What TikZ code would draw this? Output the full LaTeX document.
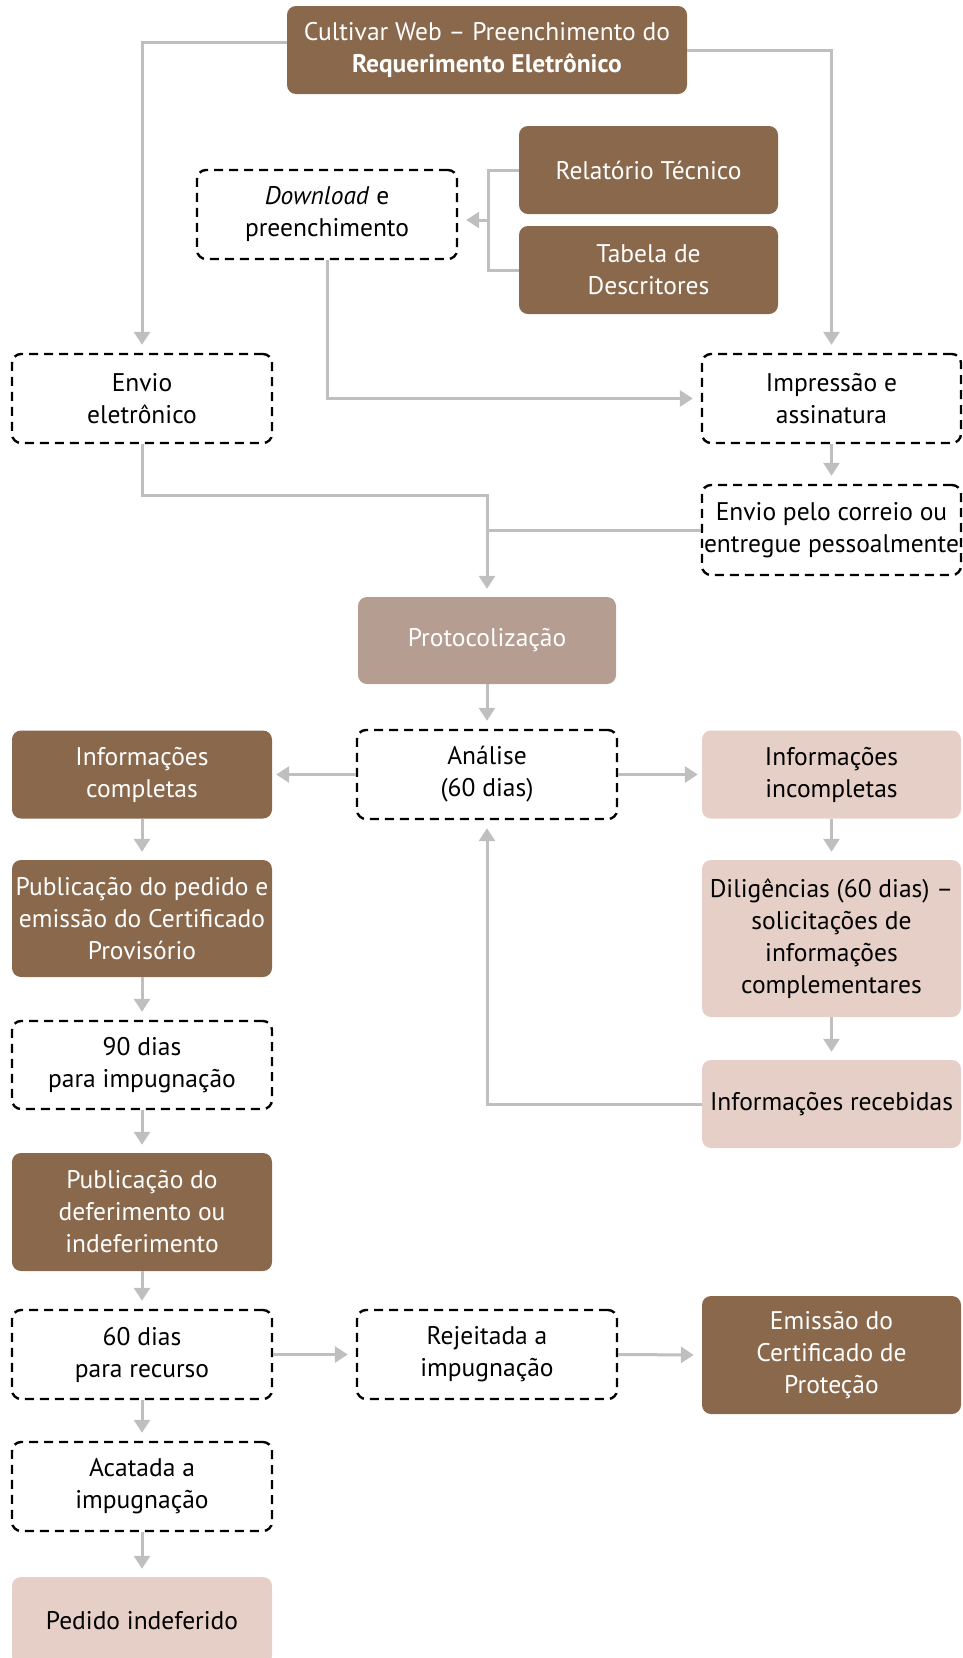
\documentclass[tikz,border=0pt]{standalone}
\usepackage{fontspec}
\setmainfont{PT Sans}
\usetikzlibrary{arrows.meta}
\definecolor{dbrown}{HTML}{8A684C}
\definecolor{lbrown}{HTML}{B59D91}
\definecolor{pinkc}{HTML}{E6CFC6}
\definecolor{conncol}{HTML}{BFBFBF}
\tikzset{
 base/.style={rounded corners=9pt, align=center, inner sep=0pt, font=\fontsize{25.5}{32}\selectfont},
 sz/.style 2 args={minimum width=#1pt, minimum height=#2pt},
 dark/.style={base, fill=dbrown, text=white},
 light/.style={base, fill=lbrown, text=white},
 pinkbox/.style={base, fill=pinkc, text=black},
 dashbox/.style={base, draw=black, line width=2.4pt, dash pattern=on 9pt off 6pt},
 plain/.style={draw=conncol, line width=3pt},
 conn/.style={plain, -{Triangle[length=13pt,width=16pt]}, shorten >=8pt},
}
\begin{document}
\begin{tikzpicture}[x=1pt,y=-1pt]
\useasboundingbox (0,0) rectangle (963,1658);
% nodes
\node[dark, sz={400}{88}] (top) at (487,50) {Cultivar Web -- Preenchimento do\\\textbf{Requerimento Eletrônico}};
\node[dark, sz={259}{88}] (rel) at (648.5,170) {Relatório Técnico};
\node[dark, sz={259}{88}] (tab) at (648.5,270) {Tabela de\\Descritores};
\node[dashbox, sz={260}{89}] (dl) at (327,214.5) {\textit{Download} e\\preenchimento};
\node[dashbox, sz={260}{89}] (env) at (142,398.5) {Envio\\eletrônico};
\node[dashbox, sz={259}{89}] (imp) at (831.5,398.5) {Impressão e\\assinatura};
\node[dashbox, sz={259}{90}] (cor) at (831.5,530) {Envio pelo correio ou\\entregue pessoalmente};
\node[light, sz={258}{87}] (prot) at (487,640.5) {Protocolização};
\node[dashbox, sz={260}{89}] (ana) at (487,774.5) {Análise\\(60 dias)};
\node[dark, sz={260}{88}] (ic) at (142,774.5) {Informações\\completas};
\node[pinkbox, sz={259}{88}] (ii) at (831.5,774.5) {Informações\\incompletas};
\node[dark, sz={260}{117}] (pub) at (142,918.5) {Publicação do pedido e\\emissão do Certificado\\Provisório};
\node[pinkbox, sz={259}{157}] (dil) at (831.5,938.5) {Diligências (60 dias) --\\solicitações de\\informações\\complementares};
\node[dashbox, sz={260}{88}] (d90) at (142,1065) {90 dias\\para impugnação};
\node[pinkbox, sz={259}{88}] (rec) at (831.5,1104) {Informações recebidas};
\node[dark, sz={260}{118}] (pdef) at (142,1212) {Publicação do\\deferimento ou\\indeferimento};
\node[dashbox, sz={260}{89}] (d60) at (142,1354.5) {60 dias\\para recurso};
\node[dashbox, sz={260}{89}] (rej) at (487,1354.5) {Rejeitada a\\impugnação};
\node[dark, sz={259}{118}] (emi) at (831.5,1355) {Emissão do\\Certificado de\\Proteção};
\node[dashbox, sz={260}{89}] (aca) at (142,1486.5) {Acatada a\\impugnação};
\node[pinkbox, sz={260}{88}] (ped) at (142,1621) {Pedido indeferido};
% helper coordinates
\coordinate (br) at (488,220);
\coordinate (j1) at (487,495);
% connectors
\draw[conn] ([yshift=8pt]top.west) -| (env.north);
\draw[conn] (top.east) -| (imp.north);
\draw[plain] (rel.west) -| (br) |- (tab.west);
\draw[conn] (br) -- (dl.east |- br);
\draw[conn] (dl.south) |- (imp.west);
\draw[conn] (imp.south) -- (cor.north);
\draw[conn] (env.south) |- (j1) -- (prot.north);
\draw[plain] (cor.west) -- (cor.west -| prot.north);
\draw[conn] (prot.south) -- (ana.north);
\draw[conn, shorten >=4pt] (ana.west) -- (ic.east);
\draw[conn, shorten >=4pt] (ana.east) -- (ii.west);
\draw[conn] (ic.south) -- (pub.north);
\draw[conn] (pub.south) -- (d90.north);
\draw[conn] (d90.south) -- (pdef.north);
\draw[conn] (pdef.south) -- (d60.north);
\draw[conn] (d60.south) -- (aca.north);
\draw[conn] (aca.south) -- (ped.north);
\draw[conn] (ii.south) -- (dil.north);
\draw[conn] (dil.south) -- (rec.north);
\draw[conn] (rec.west) -| (ana.south);
\draw[conn] (d60.east) -- (rej.west);
\draw[conn] (rej.east) -- (emi.west);
\end{tikzpicture}
\end{document}
